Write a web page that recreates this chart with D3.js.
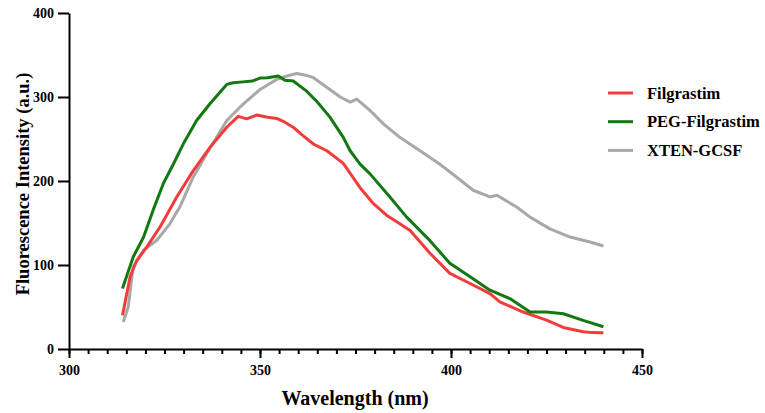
<!DOCTYPE html>
<html>
<head>
<meta charset="utf-8">
<script src="https://cdn.jsdelivr.net/npm/d3@7"></script>
<style>
  body { margin: 0; background: #fff; }
  text { font-family: "Liberation Serif", "Times New Roman", serif; font-weight: bold; fill: #000; }
</style>
</head>
<body>
<div id="chart"></div>
<script>
// wavelength (nm) / intensity pairs
var filgrastim = [
  [314, 40], [316, 86], [317.7, 105], [320.3, 121], [323.8, 145], [328.2, 181], [332.5, 212],
  [336.9, 240], [341.3, 264], [344.3, 277], [346.5, 274], [349.1, 278.5], [352, 276], [354.4, 274.5],
  [356.5, 270], [358.7, 264], [361, 255], [364, 244], [367.5, 236], [371.8, 221], [376.2, 192],
  [379.7, 173], [383.2, 159], [386, 151], [389.3, 141], [394.5, 114], [399.7, 90], [405, 78],
  [410.2, 66], [412.8, 56], [418.9, 44], [425, 34.4], [429.4, 25.7], [434.6, 20.5], [437, 19.5], [439.9, 19.4]
];
var pegFilgrastim = [
  [314, 72], [316.8, 109.6], [319.5, 133], [322, 165], [324.7, 197], [327.3, 220], [329.9, 244],
  [333.4, 272], [336.9, 292], [341.3, 315], [343, 317], [345.6, 318], [348, 319], [350, 322.5],
  [352, 323], [354.8, 325], [356.5, 320], [358.7, 319], [362.2, 307], [365, 294], [368.3, 276],
  [371.8, 252], [373.6, 236], [376.2, 220], [378.8, 208.5], [384, 181], [388.4, 157], [394.5, 129],
  [399.7, 102], [405, 86], [410.2, 70], [415.4, 60], [420.7, 44], [425, 44], [429.4, 42],
  [434.6, 34], [439.9, 26.5]
];
var xtenGcsf = [
  [314.2, 32], [315.5, 50], [316.8, 98], [319.5, 117.5], [323, 129.4], [326.4, 149], [329, 169],
  [332.5, 204.5], [336, 232], [341.3, 272], [345.6, 291.6], [350, 309], [354.4, 321], [357, 325],
  [359.6, 328], [362, 326], [364, 323], [368.3, 309], [371, 300], [373.6, 294], [375.3, 297.6],
  [378.8, 284], [382.3, 268], [386.6, 252], [391.9, 236], [397.1, 220], [401.5, 204.5],
  [405.8, 189], [410.2, 181], [412, 183], [417.2, 169], [420.7, 157], [425.9, 143], [431.2, 133.3],
  [436.4, 127.4], [439.9, 122.6]
];
var seriesNames = ["Filgrastim", "PEG-Filgrastim", "XTEN-GCSF"];
var seriesColors = ["#f23c3c", "#127812", "#a8a8a8"];
var xTicks = [300, 350, 400, 450];
var yTicks = [0, 100, 200, 300, 400];

var width = 765, height = 413;
var margin = { left: 69, right: 123, top: 13, bottom: 64 };

var svg = d3.select("#chart").append("svg")
  .attr("width", width)
  .attr("height", height);

var x = d3.scaleLinear().domain([300, 450]).range([margin.left, width - margin.right]);
var y = d3.scaleLinear().domain([0, 400]).range([height - margin.bottom, margin.top]);

// minor ticks every 5 nm
svg.append("g")
  .attr("transform", "translate(0," + y(0) + ")")
  .call(d3.axisBottom(x).tickValues(d3.range(300, 451, 5)).tickSize(5).tickFormat(""))
  .call(function(g) { g.select(".domain").remove(); });

var xAxis = svg.append("g")
  .attr("transform", "translate(0," + y(0) + ")")
  .call(d3.axisBottom(x).tickValues(xTicks).tickSize(9).tickPadding(7).tickSizeOuter(0));
xAxis.selectAll("text").attr("font-size", 14).style("font-family", "Liberation Serif").style("font-weight", "bold");

var yAxis = svg.append("g")
  .attr("transform", "translate(" + x(300) + ",0)")
  .call(d3.axisLeft(y).tickValues(yTicks).tickSize(11).tickPadding(4).tickSizeOuter(0));
yAxis.selectAll("text").attr("font-size", 14).style("font-family", "Liberation Serif").style("font-weight", "bold");

svg.selectAll(".domain, .tick line").attr("stroke", "#000").attr("stroke-width", 2);

var line = d3.line()
  .x(function(d) { return x(d[0]); })
  .y(function(d) { return y(d[1]); });

var allSeries = [filgrastim, pegFilgrastim, xtenGcsf];
// draw grey first so the coloured spectra sit on top
[2, 0, 1].forEach(function(i) {
  svg.append("path")
    .datum(allSeries[i])
    .attr("fill", "none")
    .attr("stroke", seriesColors[i])
    .attr("stroke-width", 3)
    .attr("stroke-linejoin", "round")
    .attr("d", line);
});

// legend
var legend = svg.append("g").attr("transform", "translate(608,93)");
seriesNames.forEach(function(name, i) {
  var row = legend.append("g").attr("transform", "translate(0," + i * 28.7 + ")");
  row.append("line")
    .attr("x1", 0).attr("x2", 25)
    .attr("stroke", seriesColors[i])
    .attr("stroke-width", 3);
  row.append("text")
    .attr("x", 39).attr("dy", "0.35em")
    .attr("font-size", 16.5)
    .text(name);
});

svg.append("text")
  .attr("x", 355).attr("y", 405)
  .attr("text-anchor", "middle")
  .attr("font-size", 20)
  .text("Wavelength (nm)");

svg.append("text")
  .attr("transform", "translate(29,184) rotate(-90)")
  .attr("text-anchor", "middle")
  .attr("font-size", 18.5)
  .text("Fluorescence Intensity (a.u.)");
</script>
</body>
</html>
